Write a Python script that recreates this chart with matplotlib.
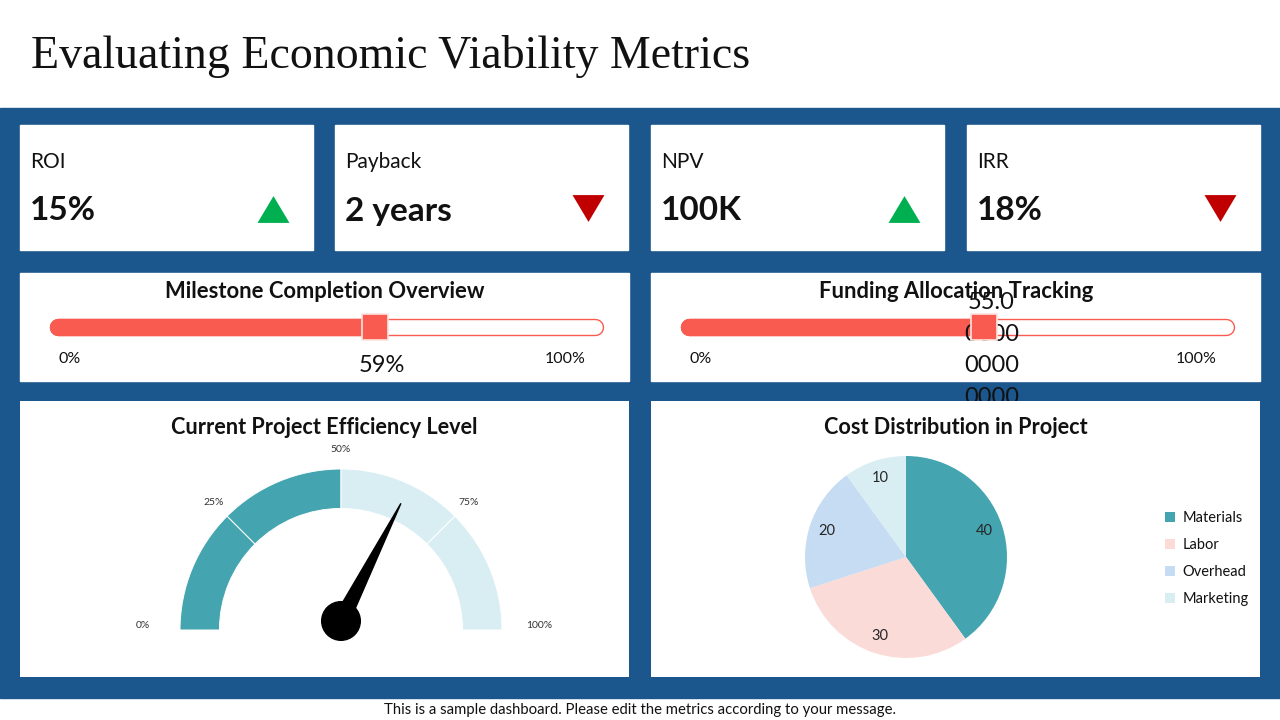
import textwrap
import numpy as np
import matplotlib
matplotlib.use("Agg")
import matplotlib.pyplot as plt
from matplotlib.patches import Rectangle, Wedge, Polygon, Circle

plt.rcParams['font.family'] = ['Lato', 'DejaVu Sans']

# KPI cards
kpi_names = ["ROI", "Payback", "NPV", "IRR"]
kpi_values = ["15%", "2 years", "100K", "18%"]
kpi_trend = ["up", "down", "up", "down"]

# progress bars
milestone_pct = 59
funding_share = 0.55

# gauge
gauge_ticks = [0, 25, 50, 75, 100]
gauge_fill = 50
needle_value = 65

# pie
cost_labels = ["Materials", "Labor", "Overhead", "Marketing"]
cost_values = [40, 30, 20, 10]

BLUE = "#1B578C"
RED_BAR = "#F95B50"
TEAL = "#44A5B0"
LIGHT = "#D9EEF2"
pie_colors = [TEAL, "#FADBD8", "#C5DCF3", LIGHT]
TXT = "#111111"

W, H = 1280, 720
fig = plt.figure(figsize=(12.8, 7.2), dpi=100)


def px_axes(x0, y0, x1, y1, zorder=1):
    ax = fig.add_axes([x0 / W, 1 - y1 / H, (x1 - x0) / W, (y1 - y0) / H], zorder=zorder)
    ax.axis("off")
    return ax


# flattened triangles for the trend icons
tri_up = [(-1, -0.84), (1, -0.84), (0, 0.84), (-1, -0.84)]
tri_down = [(-1, 0.84), (1, 0.84), (0, -0.84), (-1, 0.84)]

# background, cards, title
bg = px_axes(0, 0, W, H, zorder=0)
bg.set_xlim(0, W)
bg.set_ylim(H, 0)
bg.add_patch(Rectangle((0, 108), W, 590, color=BLUE))

bg.text(31, 57, "Evaluating Economic Viability Metrics", family="Liberation Serif",
        fontsize=33, va="center", ha="left", color=TXT)
bg.text(640, 710, "This is a sample dashboard. Please edit the metrics according to your message.",
        fontsize=10.7, ha="center", va="center", color=TXT)

card_x = [20, 335, 651, 967]
card_w = 293
for i in range(4):
    x0 = card_x[i]
    bg.add_patch(Rectangle((x0, 125), card_w, 125, color="white"))
    bg.text(x0 + 10, 162, kpi_names[i], fontsize=15, va="center", color=TXT)
    bg.text(x0 + 10, 211, kpi_values[i], fontsize=24, fontweight="bold", va="center", color=TXT)
    if kpi_trend[i] == "up":
        bg.plot(x0 + card_w - 40, 209, marker=tri_up, ms=23, color="#00B050", mec="none")
    else:
        bg.plot(x0 + card_w - 40, 208, marker=tri_down, ms=23, color="#C00000", mec="none")

# progress panels
for x0, title in [(20, "Milestone Completion Overview"), (651, "Funding Allocation Tracking")]:
    bg.add_patch(Rectangle((x0, 273), 609, 108, color="white"))
    bg.text(x0 + 305, 292, title, fontsize=15.8, fontweight="bold", ha="center", va="center", color=TXT)
    bg.text(x0 + 50, 359, "0%", fontsize=11.5, ha="center", va="center", color=TXT)
    bg.text(x0 + 545, 359, "100%", fontsize=11.5, ha="center", va="center", color=TXT)


def progress_bar(x0, pct, label, dy):
    ax = px_axes(x0 + 38, 314, x0 + 575, 340, zorder=1)
    ax.set_xlim(0, 100)
    ax.set_ylim(-1, 1)
    ax.plot([0, 100], [0, 0], color=RED_BAR, lw=12.5, solid_capstyle="round", zorder=1, clip_on=False)
    ax.plot([0, 100], [0, 0], color="white", lw=10.5, solid_capstyle="round", zorder=2, clip_on=False)
    ax.plot([0, pct], [0, 0], color=RED_BAR, lw=12.5, solid_capstyle="round", zorder=3, clip_on=False)
    ax.annotate(label, xy=(pct, 0), xytext=(5, dy), textcoords="offset points",
                ha="center", va="center", fontsize=17, color=TXT, linespacing=1.62,
                annotation_clip=False, zorder=4)
    ax.plot(pct, 0, marker="s", ms=19, color=RED_BAR, mec="#FDE3E0", mew=1.2, zorder=5, clip_on=False)


progress_bar(20, milestone_pct, f"{milestone_pct}%", -27.5)
funding_pct = funding_share * 100
# the long float label wraps; only the first four lines stay visible in the panel
funding_lines = textwrap.wrap(str(funding_pct), 4)[:4]
progress_bar(651, funding_pct, "\n".join(funding_lines), -16.5)

# bottom panels
panels = []
for x0, title in [(20, "Current Project Efficiency Level"), (651, "Cost Distribution in Project")]:
    p = px_axes(x0, 401, x0 + 609, 677, zorder=2)
    p.add_patch(Rectangle((0, 0), 1, 1, transform=p.transAxes, color="white"))
    p.text(0.5, 1 - 27 / 276, title, transform=p.transAxes, fontsize=15.6,
           fontweight="bold", ha="center", va="center", color=TXT)
    panels.append(p)

# gauge
g = px_axes(130, 430, 552, 660, zorder=3)
r_px = 161
g.set_xlim((130 - 341) / r_px, (552 - 341) / r_px)
g.set_ylim((630 - 660) / r_px, (630 - 430) / r_px)
for lo, hi in zip(gauge_ticks[:-1], gauge_ticks[1:]):
    col = TEAL if hi <= gauge_fill else LIGHT
    t1 = 180 * (1 - hi / 100)
    t2 = 180 * (1 - lo / 100)
    g.add_patch(Wedge((0, 0), 1, t1, t2, width=0.245, facecolor=col, edgecolor="white", lw=0.7))
for t in gauge_ticks:
    a = np.pi * (1 - t / 100)
    rr = 1.23 if t in (0, 100) else 1.12
    g.text(rr * np.cos(a), rr * np.sin(a) + (0.03 if t in (0, 100) else 0), f"{t}%",
           fontsize=7.5, ha="center", va="center", color="#333333")
hub = np.array([0, 0.056])
a = np.pi * (1 - needle_value / 100)
tip = hub + 0.82 * np.array([np.cos(a), np.sin(a)])
perp = 0.05 * np.array([-np.sin(a), np.cos(a)])
g.add_patch(Polygon([tip, hub + perp, hub - perp], color="black"))
g.add_patch(Circle(hub, 0.12, color="black"))

# pie
pr = 101 * 1.05
pa = px_axes(906 - pr, 557 - pr, 906 + pr, 557 + pr, zorder=3)
total = sum(cost_values)
wedges, _, autotexts = pa.pie(cost_values, colors=pie_colors, startangle=90, counterclock=False,
                              autopct=lambda p: f"{p * total / 100:.0f}", pctdistance=0.82,
                              textprops=dict(fontsize=10.5, color="#262626"))
pa.set_xlim(-1.05, 1.05)
pa.set_ylim(-1.05, 1.05)
pa.set_aspect("equal")
pa.legend(wedges, cost_labels, loc="center left", bbox_to_anchor=(1165 / W, 1 - 558.5 / H),
          bbox_transform=fig.transFigure, frameon=False, fontsize=10.5, handlelength=0.7,
          handleheight=0.7, handletextpad=0.5, labelspacing=0.9, borderpad=0, borderaxespad=0,
          labelcolor=TXT)

fig.savefig("out.png", dpi=100)
